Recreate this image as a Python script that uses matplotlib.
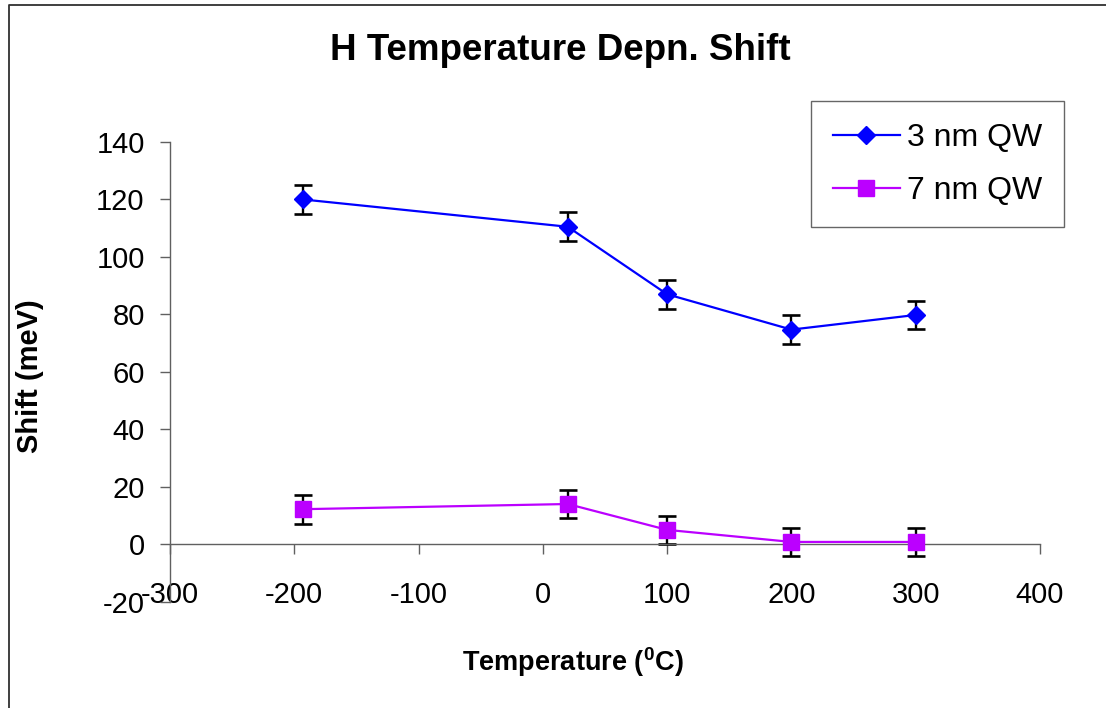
import matplotlib
matplotlib.use('Agg')
import matplotlib.pyplot as plt
from matplotlib.lines import Line2D

# measured shifts vs anneal temperature
temps = [-193, 20, 100, 200, 300]
shift_3nm = [120.0, 110.5, 87.0, 74.7, 79.8]
shift_7nm = [12.2, 14.0, 5.0, 0.8, 0.8]
err_3nm = [5, 5, 5, 5, 5]
err_7nm = [5, 5, 5, 5, 5]
labels = ['3 nm QW', '7 nm QW']
xticks = [-300, -200, -100, 0, 100, 200, 300, 400]
yticks = [-20, 0, 20, 40, 60, 80, 100, 120, 140]

plt.rcParams['font.family'] = ['Liberation Sans', 'DejaVu Sans']
plt.rcParams['axes.unicode_minus'] = False
plt.rcParams['mathtext.fontset'] = 'custom'
plt.rcParams['mathtext.rm'] = 'Liberation Sans:bold'
plt.rcParams['mathtext.it'] = 'Liberation Sans:bold'
plt.rcParams['mathtext.bf'] = 'Liberation Sans:bold'

W, H = 1106, 708
fig = plt.figure(figsize=(W/100, H/100), dpi=100)
ax = fig.add_axes([170/W, 1-601.7/H, 870/W, 459.7/H])

blue = '#0000FF'
purple = '#BB00FF'

ax.errorbar(temps, shift_3nm, yerr=err_3nm, fmt='none', ecolor='black',
            elinewidth=1.7, capsize=6.5, capthick=1.9, zorder=2)
ax.errorbar(temps, shift_7nm, yerr=err_7nm, fmt='none', ecolor='black',
            elinewidth=1.7, capsize=6.5, capthick=1.9, zorder=2)
l1, = ax.plot(temps, shift_3nm, color=blue, lw=1.6, marker='D', ms=9,
              mec=blue, mfc=blue, zorder=3)
l2, = ax.plot(temps, shift_7nm, color=purple, lw=1.6, marker='s', ms=12,
              mec=purple, mfc=purple, zorder=3)

ax.set_xlim(-300, 400)
ax.set_ylim(-20, 140)
ax.set_xticks(xticks)
ax.set_yticks(yticks)
ax.spines['top'].set_visible(False)
ax.spines['right'].set_visible(False)
ax.spines['bottom'].set_position(('data', 0))
for s in ('left', 'bottom'):
    ax.spines[s].set_color('#606060')
    ax.spines[s].set_linewidth(1.0)
ax.tick_params(axis='x', direction='out', length=7.2, width=1.0, color='#606060',
               labelsize=21, pad=19)
ax.tick_params(axis='y', direction='out', length=7.2, width=1.0, color='#606060',
               labelsize=21, pad=11)

leg = fig.legend([l1, l2], labels, loc='upper right',
                 bbox_to_anchor=(1064/W, 1-101/H), fontsize=23,
                 frameon=True, fancybox=False, edgecolor='#404040',
                 handlelength=2.1, handletextpad=0.22, labelspacing=0.72,
                 borderpad=0.68, borderaxespad=0)
leg.get_frame().set_linewidth(1.0)

fig.text(560/W, 1-50/H, 'H Temperature Depn. Shift', ha='center', va='center',
         fontsize=26.5, fontweight='bold')
fig.text(573/W, 1-662/H, 'Temperature ($^{0}$C)', ha='center', va='center',
         fontsize=19.5, fontweight='bold')
fig.text(30/W, 1-376/H, 'Shift (meV)', ha='center', va='center',
         rotation=90, fontsize=21, fontweight='bold')

# outer frame (left and top edges)
fig.add_artist(Line2D([9/W, 9/W, 1], [0, 1-5/H, 1-5/H],
                      transform=fig.transFigure, color='#303030', lw=1.3))

fig.savefig('out.png', dpi=100)
